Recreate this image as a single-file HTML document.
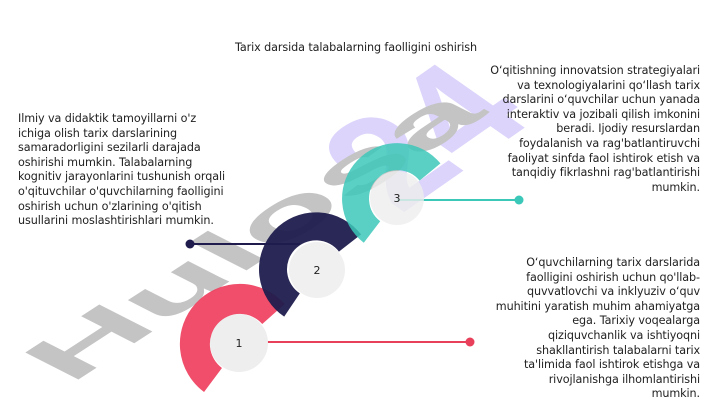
<!DOCTYPE html>
<html><head><meta charset="utf-8"><style>
body{margin:0;width:720px;height:406px;background:#fff;overflow:hidden;position:relative;font-family:"DejaVu Sans","Liberation Sans",sans-serif;color:#222}
.t{position:absolute;font-size:11.2px;line-height:14.6px;white-space:nowrap;letter-spacing:-0.1px}
svg{position:absolute;left:0;top:0}
</style></head><body>
<svg width="720" height="406" viewBox="0 0 720 406">
  <text x="0" y="0" font-family="Liberation Sans" font-weight="bold" font-size="150" fill="#dcd4fb" transform="translate(400,215) rotate(-35) skewX(20)">24</text>
  <text x="0" y="0" font-family="Liberation Sans" font-weight="bold" font-size="150" fill="#c4c4c4" transform="translate(70,385) rotate(-33) skewX(30) scale(1,0.5)">Hulosa</text>
  <line x1="190" y1="244" x2="300" y2="244" stroke="#1f1c4d" stroke-width="2"/>
  <circle cx="190" cy="244" r="4.5" fill="#1f1c4d"/>
  <line x1="239" y1="342" x2="470" y2="342" stroke="#e8405a" stroke-width="2"/>
  <circle cx="470" cy="342" r="4.5" fill="#e8405a"/>
  <line x1="397" y1="200" x2="519" y2="200" stroke="#3cc8b8" stroke-width="2"/>
  <circle cx="519" cy="200" r="4.5" fill="#3cc8b8"/>
  <circle cx="239" cy="343" r="29" fill="#eeeeee"/>
  <path d="M273.5,314 A45,45 0 1 0 213,380" fill="none" stroke="#ee3b5a" stroke-width="30" opacity="0.9"/>
  <circle cx="317" cy="270" r="28" fill="#eeeeee" opacity="0.9"/>
  <path d="M350,243 A43,43 0 1 0 292,305" fill="none" stroke="#1f1c4d" stroke-width="28" opacity="0.95"/>
  <circle cx="397" cy="198" r="27" fill="#eeeeee" opacity="0.8"/>
  <path d="M430,172 A42,42 0 1 0 372,232" fill="none" stroke="#3cc8b8" stroke-width="27" opacity="0.85"/>
  <text x="239" y="347" font-size="11" text-anchor="middle" fill="#222" font-family="DejaVu Sans">1</text>
  <text x="317" y="274" font-size="11" text-anchor="middle" fill="#222" font-family="DejaVu Sans">2</text>
  <text x="397" y="202" font-size="11" text-anchor="middle" fill="#222" font-family="DejaVu Sans">3</text>
</svg>
<div class="t" style="left:235px;top:41px">Tarix darsida talabalarning faolligini oshirish</div>
<div class="t" style="left:18px;top:112px">Ilmiy va didaktik tamoyillarni o'z<br>ichiga olish tarix darslarining<br>samaradorligini sezilarli darajada<br>oshirishi mumkin. Talabalarning<br>kognitiv jarayonlarini tushunish orqali<br>o'qituvchilar o'quvchilarning faolligini<br>oshirish uchun o'zlarining o'qitish<br>usullarini moslashtirishlari mumkin.</div>
<div class="t" style="right:20px;top:64px;text-align:right">O‘qitishning innovatsion strategiyalari<br>va texnologiyalarini qo‘llash tarix<br>darslarini o‘quvchilar uchun yanada<br>interaktiv va jozibali qilish imkonini<br>beradi. Ijodiy resurslardan<br>foydalanish va rag'batlantiruvchi<br>faoliyat sinfda faol ishtirok etish va<br>tanqidiy fikrlashni rag'batlantirishi<br>mumkin.</div>
<div class="t" style="right:20px;top:256px;text-align:right">O‘quvchilarning tarix darslarida<br>faolligini oshirish uchun qo'llab-<br>quvvatlovchi va inklyuziv o‘quv<br>muhitini yaratish muhim ahamiyatga<br>ega. Tarixiy voqealarga<br>qiziquvchanlik va ishtiyoqni<br>shakllantirish talabalarni tarix<br>ta'limida faol ishtirok etishga va<br>rivojlanishga ilhomlantirishi<br>mumkin.</div>
</body></html>
